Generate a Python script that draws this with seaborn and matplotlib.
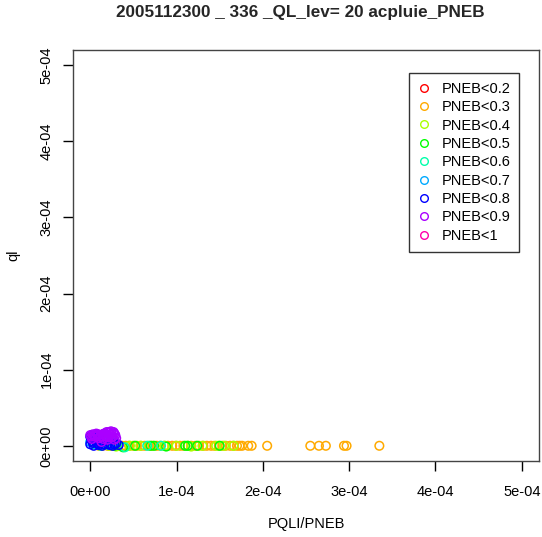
import numpy as np
import pandas as pd
import matplotlib
matplotlib.use("Agg")
import matplotlib.pyplot as plt
import seaborn as sns
from matplotlib.lines import Line2D

sns.set_style("white")
plt.rcParams['font.family'] = ['Liberation Sans', 'DejaVu Sans']

title = "2005112300 _ 336 _QL_lev= 20 acpluie_PNEB"
classes = ["PNEB<0.2", "PNEB<0.3", "PNEB<0.4", "PNEB<0.5", "PNEB<0.6",
           "PNEB<0.7", "PNEB<0.8", "PNEB<0.9", "PNEB<1"]
colors = ["#FF0000", "#FFAA00", "#AAFF00", "#00FF00", "#00FFAA",
          "#00AAFF", "#0000FF", "#AA00FF", "#FF00AA"]
x_ticks = [0, 1e-4, 2e-4, 3e-4, 4e-4, 5e-4]
tick_labels = ["0e+00", "1e-04", "2e-04", "3e-04", "4e-04", "5e-04"]

# values in units of 1e-4
red_x = []
red_y = []
orange_x = [0.10, 0.14, 0.20, 0.24, 0.28, 0.32, 0.37, 0.41, 0.45, 0.50, 0.54, 0.59, 0.63,
            0.68, 0.72, 0.77, 0.81, 0.86, 0.90, 0.95, 0.99, 1.04, 1.08, 1.13, 1.17,
            1.22, 1.26, 1.31, 1.35, 1.40, 1.44, 1.49, 1.53, 1.57, 1.62, 1.66, 1.70,
            1.73, 1.76, 1.83, 1.87, 2.05, 2.55, 2.65, 2.73, 2.94, 2.97, 3.35]
orange_y = [0.0, 0.0, 0.0, 0.0, 0.0, 0.0, 0.0, 0.0, 0.0, 0.0, 0.0, 0.0, 0.0,
            0.0, 0.0, 0.0, 0.0, 0.0, 0.0, 0.0, 0.0, 0.0, 0.0, 0.0, 0.0,
            0.0, 0.0, 0.0, 0.0, 0.0, 0.0, 0.0, 0.0, 0.0, 0.0, 0.0, 0.0,
            0.0, 0.0, 0.0, 0.0, 0.0, 0.0, 0.0, 0.0, 0.0, 0.0, 0.0]
ygreen_x = [0.22, 0.30, 0.46, 0.58, 0.86, 1.00, 1.17, 1.30, 1.46, 1.55, 1.66]
ygreen_y = [0.0, -0.01, 0.0, 0.0, 0.0, 0.0, -0.01, 0.0, 0.0, 0.0, 0.0]
green_x = [0.28, 0.38, 0.52, 0.70, 0.74, 0.88, 1.10, 1.13, 1.24, 1.50]
green_y = [0.0, -0.02, 0.0, 0.0, 0.0, -0.01, 0.0, 0.0, 0.0, 0.0]
cyan_x = [0.05, 0.12, 0.18, 0.40, 0.66, 0.82]
cyan_y = [0.02, 0.0, 0.03, -0.02, 0.0, 0.0]
lblue_x = [0.0, 0.04, 0.08, 0.15, 0.22, 0.27]
lblue_y = [0.05, 0.10, 0.02, 0.06, 0.01, 0.04]
blue_x = [0.0, 0.02, 0.05, 0.07, 0.10, 0.03, 0.0, 0.08, 0.12, 0.14, 0.20, 0.26, 0.33,
          0.30, 0.04, 0.01, 0.06, 0.09, 0.11, 0.03, 0.07, 0.16, 0.23, 0.28]
blue_y = [0.02, 0.06, 0.10, 0.04, 0.01, 0.13, 0.12, 0.08, 0.05, 0.0, 0.02, 0.0, 0.01,
          0.03, 0.0, 0.09, 0.07, 0.03, 0.09, 0.04, 0.11, 0.02, 0.01, 0.02]
purple_x = [0.0, 0.03, 0.06, 0.09, 0.12, 0.15, 0.18, 0.21, 0.24, 0.27, 0.29, 0.25,
            0.20, 0.02, 0.10, 0.16, 0.23, 0.28, 0.13, 0.05, 0.19, 0.26, 0.01, 0.04,
            0.08, 0.11, 0.14, 0.17, 0.22, 0.25, 0.28, 0.19, 0.15, 0.21, 0.30, 0.07]
purple_y = [0.14, 0.15, 0.14, 0.15, 0.13, 0.12, 0.14, 0.17, 0.19, 0.18, 0.14, 0.11,
            0.08, 0.09, 0.10, 0.16, 0.15, 0.08, 0.05, 0.12, 0.18, 0.12, 0.12, 0.13,
            0.15, 0.12, 0.15, 0.16, 0.18, 0.16, 0.16, 0.13, 0.09, 0.11, 0.10, 0.16]
magenta_x = []
magenta_y = []

series = [(red_x, red_y), (orange_x, orange_y), (ygreen_x, ygreen_y), (green_x, green_y),
          (cyan_x, cyan_y), (lblue_x, lblue_y), (blue_x, blue_y), (purple_x, purple_y),
          (magenta_x, magenta_y)]

fig = plt.figure(figsize=(5.42, 5.37), dpi=100)
ax = fig.add_axes([73/542, 1-461/537, 466/542, 411/537])

for cls, col, (xs, ys) in zip(classes, colors, series):
    if len(xs) == 0:
        continue
    df = pd.DataFrame({"x": np.array(xs) * 1e-4, "y": np.array(ys) * 1e-4})
    sns.scatterplot(data=df, x="x", y="y", ax=ax, marker="o", s=38,
                    facecolor="none", edgecolor=col, linewidth=1.1, legend=False)

ax.set_xlim(-2e-5, 5.2e-4)
ax.set_ylim(-2e-5, 5.2e-4)
ax.set_xticks(x_ticks)
ax.set_xticklabels(tick_labels)
ax.set_yticks(x_ticks)
ax.set_yticklabels(tick_labels, rotation=90, va="center")
ax.tick_params(axis="both", direction="out", length=7, width=1, color="black",
               labelsize=10.5, labelcolor="black", left=True, bottom=True)
ax.tick_params(axis="x", pad=10)
ax.tick_params(axis="y", pad=7)
for sp in ax.spines.values():
    sp.set_color("#444444")
    sp.set_linewidth(1)
ax.set_xlabel("PQLI/PNEB", fontsize=10.5, labelpad=13, color="black")
ax.set_ylabel("ql", fontsize=10.5, labelpad=14, color="black")
fig.text(300/542, 1-13/537, title, ha="center", va="center",
         fontsize=12.3, fontweight="bold")

handles = [Line2D([], [], marker="o", linestyle="none", markersize=5.5,
                  markerfacecolor="none", markeredgecolor=c, markeredgewidth=1.0)
           for c in colors]
leg = ax.legend(handles, classes, loc="upper right",
                bbox_to_anchor=((519-73)/466, (461-73)/411),
                borderaxespad=0, frameon=True, fancybox=False, fontsize=10.5,
                handletextpad=0.75, labelspacing=0.3, borderpad=0.6,
                handlelength=0.9)
leg.get_frame().set_edgecolor("black")
leg.get_frame().set_linewidth(1)
for t in leg.get_texts():
    t.set_color("black")

fig.savefig("out.png", dpi=100)
